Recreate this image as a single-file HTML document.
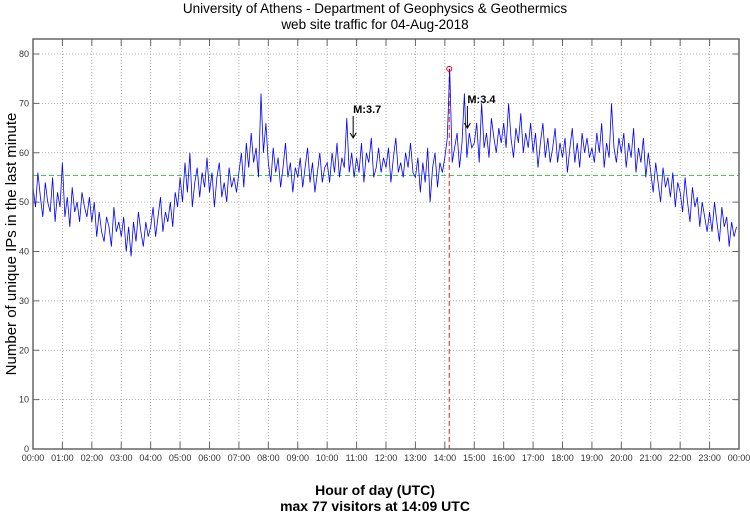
<!DOCTYPE html>
<html><head><meta charset="utf-8"><style>
body{margin:0;background:#fff;}
svg{display:block;font-family:"Liberation Sans",sans-serif;}
</style></head><body>
<svg id="c" width="750" height="515">
<text x="375" y="13" text-anchor="middle" font-size="13.5">University of Athens - Department of Geophysics &amp; Geothermics</text>
<text x="375" y="29" text-anchor="middle" font-size="13.5">web site traffic for 04-Aug-2018</text>
<text x="375" y="495" text-anchor="middle" font-size="14" font-weight="bold">Hour of day (UTC)</text>
<text x="375" y="511" text-anchor="middle" font-size="14" font-weight="bold">max 77 visitors at 14:09 UTC</text>
<text transform="translate(16,244) rotate(-90)" text-anchor="middle" font-size="15">Number of unique IPs in the last minute</text>
<g id="grid"></g><g id="series"></g><g id="ann"></g>
<rect x="33" y="39" width="706" height="410" fill="none" stroke="#666" stroke-width="1.5"/>
</svg>
<script>
const yTicks=[0,10,20,30,40,50,60,70,80];
const xTickLabels=["00:00","01:00","02:00","03:00","04:00","05:00","06:00","07:00","08:00","09:00","10:00","11:00","12:00","13:00","14:00","15:00","16:00","17:00","18:00","19:00","20:00","21:00","22:00","23:00","00:00"];
const stepMinutes=5;
const visitors=[53,49,56,51,47,54,50,48,55,46,52,49,
58,47,51,45,53,48,50,46,52,49,47,51,
46,50,43,48,44,42,47,45,41,49,44,46,
43,47,40,45,39,46,42,48,44,41,46,43,
45,49,43,47,51,44,48,46,50,45,52,49,
55,50,58,52,60,49,54,57,51,56,53,59,
52,56,49,55,58,51,54,50,57,53,55,52,
56,60,53,62,57,64,58,61,55,72,60,66,
58,54,61,56,59,53,57,62,55,58,52,57,
55,59,53,57,61,54,58,52,56,60,54,57,
58,54,60,56,62,55,59,57,67,56,60,55,
59,56,62,54,60,58,63,55,57,61,56,59,
57,61,54,59,63,56,58,55,60,57,62,56,
55,59,52,58,54,61,50,57,60,53,58,56,
59,63,77,58,61,64,57,62,72,59,64,61,
62,66,58,70,61,64,59,67,63,60,65,62,
66,61,70,63,59,65,62,68,60,64,61,66,
60,64,57,62,66,59,63,58,61,65,58,62,
59,63,56,61,65,58,62,57,64,60,63,59,
61,58,64,60,66,57,62,59,70,61,58,63,
60,64,57,62,59,65,56,61,58,63,55,60,
56,52,58,54,50,57,53,55,51,56,49,54,
52,48,55,50,46,53,49,51,45,50,47,44,
48,44,50,46,42,49,45,47,41,46,43,45];
const meanLevel=55.4;
const quakes=[{label:"M:3.7",minute:653,value:63},{label:"M:3.4",minute:886,value:65}];
const maxMinute=849, maxValue=77;

const NS="http://www.w3.org/2000/svg";
const L=33,R=739,T=39,B=449;
const xs=m=>L+(R-L)*m/1440;
const ys=v=>B-(B-54)*v/80;
function mk(tag,attrs,parent){const e=document.createElementNS(NS,tag);for(const k in attrs)e.setAttribute(k,attrs[k]);parent.appendChild(e);return e;}
const grid=document.getElementById('grid'),ser=document.getElementById('series'),ann=document.getElementById('ann');
yTicks.forEach(v=>{
  const y=ys(v);
  if(v>0){const g=mk('line',{x1:L,x2:R,y1:y,y2:y,stroke:'#999','stroke-width':0.8,'stroke-dasharray':'1,2'},grid);
  
  }
  mk('line',{x1:L,x2:L+6,y1:y,y2:y,stroke:'#666'},grid);
  mk('line',{x1:R-6,x2:R,y1:y,y2:y,stroke:'#666'},grid);
  const t=mk('text',{x:L-4,y:y+3,'text-anchor':'end','font-size':9,fill:'#333'},grid);t.textContent=v;
  
  
});
xTickLabels.forEach((lab,i)=>{
  const x=xs(i*60);
  if(i>0&&i<24){const g=mk('line',{x1:x,x2:x,y1:T,y2:B,stroke:'#999','stroke-width':0.8,'stroke-dasharray':'1,2'},grid);
  
  }
  mk('line',{x1:x,x2:x,y1:B-7,y2:B,stroke:'#666'},grid);
  mk('line',{x1:x,x2:x,y1:T,y2:T+7,stroke:'#666'},grid);
  const t=mk('text',{x:x,y:B+12,'text-anchor':'middle','font-size':9,fill:'#333'},grid);t.textContent=lab;
  
  
});
const ml=mk('line',{x1:L,x2:R,y1:ys(meanLevel),y2:ys(meanLevel),stroke:'#44cc44','stroke-dasharray':'5,3','stroke-width':1},ser);


const mv=mk('line',{x1:xs(maxMinute),x2:xs(maxMinute),y1:ys(maxValue),y2:B,stroke:'#d22','stroke-dasharray':'5,3','stroke-width':1},ser);


const pts=visitors.map((v,i)=>xs(i*stepMinutes).toFixed(1)+','+ys(v).toFixed(1)).join(' ');
const pl=mk('polyline',{points:pts,fill:'none',stroke:'#00f','stroke-width':0.8},ser);


const mc=mk('circle',{cx:xs(maxMinute),cy:ys(maxValue),r:2.5,fill:'none',stroke:'#e00','stroke-width':1},ser);


quakes.forEach(q=>{
  const x=xs(q.minute),y=ys(q.value);
  mk('line',{x1:x,x2:x,y1:y-22,y2:y,stroke:'#000'},ann);
  mk('path',{d:`M${x-3},${y-5} L${x},${y} L${x+3},${y-5}`,fill:'none',stroke:'#000'},ann);
  const t=mk('text',{x:x,y:y-25,'font-size':11,'font-weight':'bold'},ann);t.textContent=q.label;
  
  
});
</script>
</body></html>
